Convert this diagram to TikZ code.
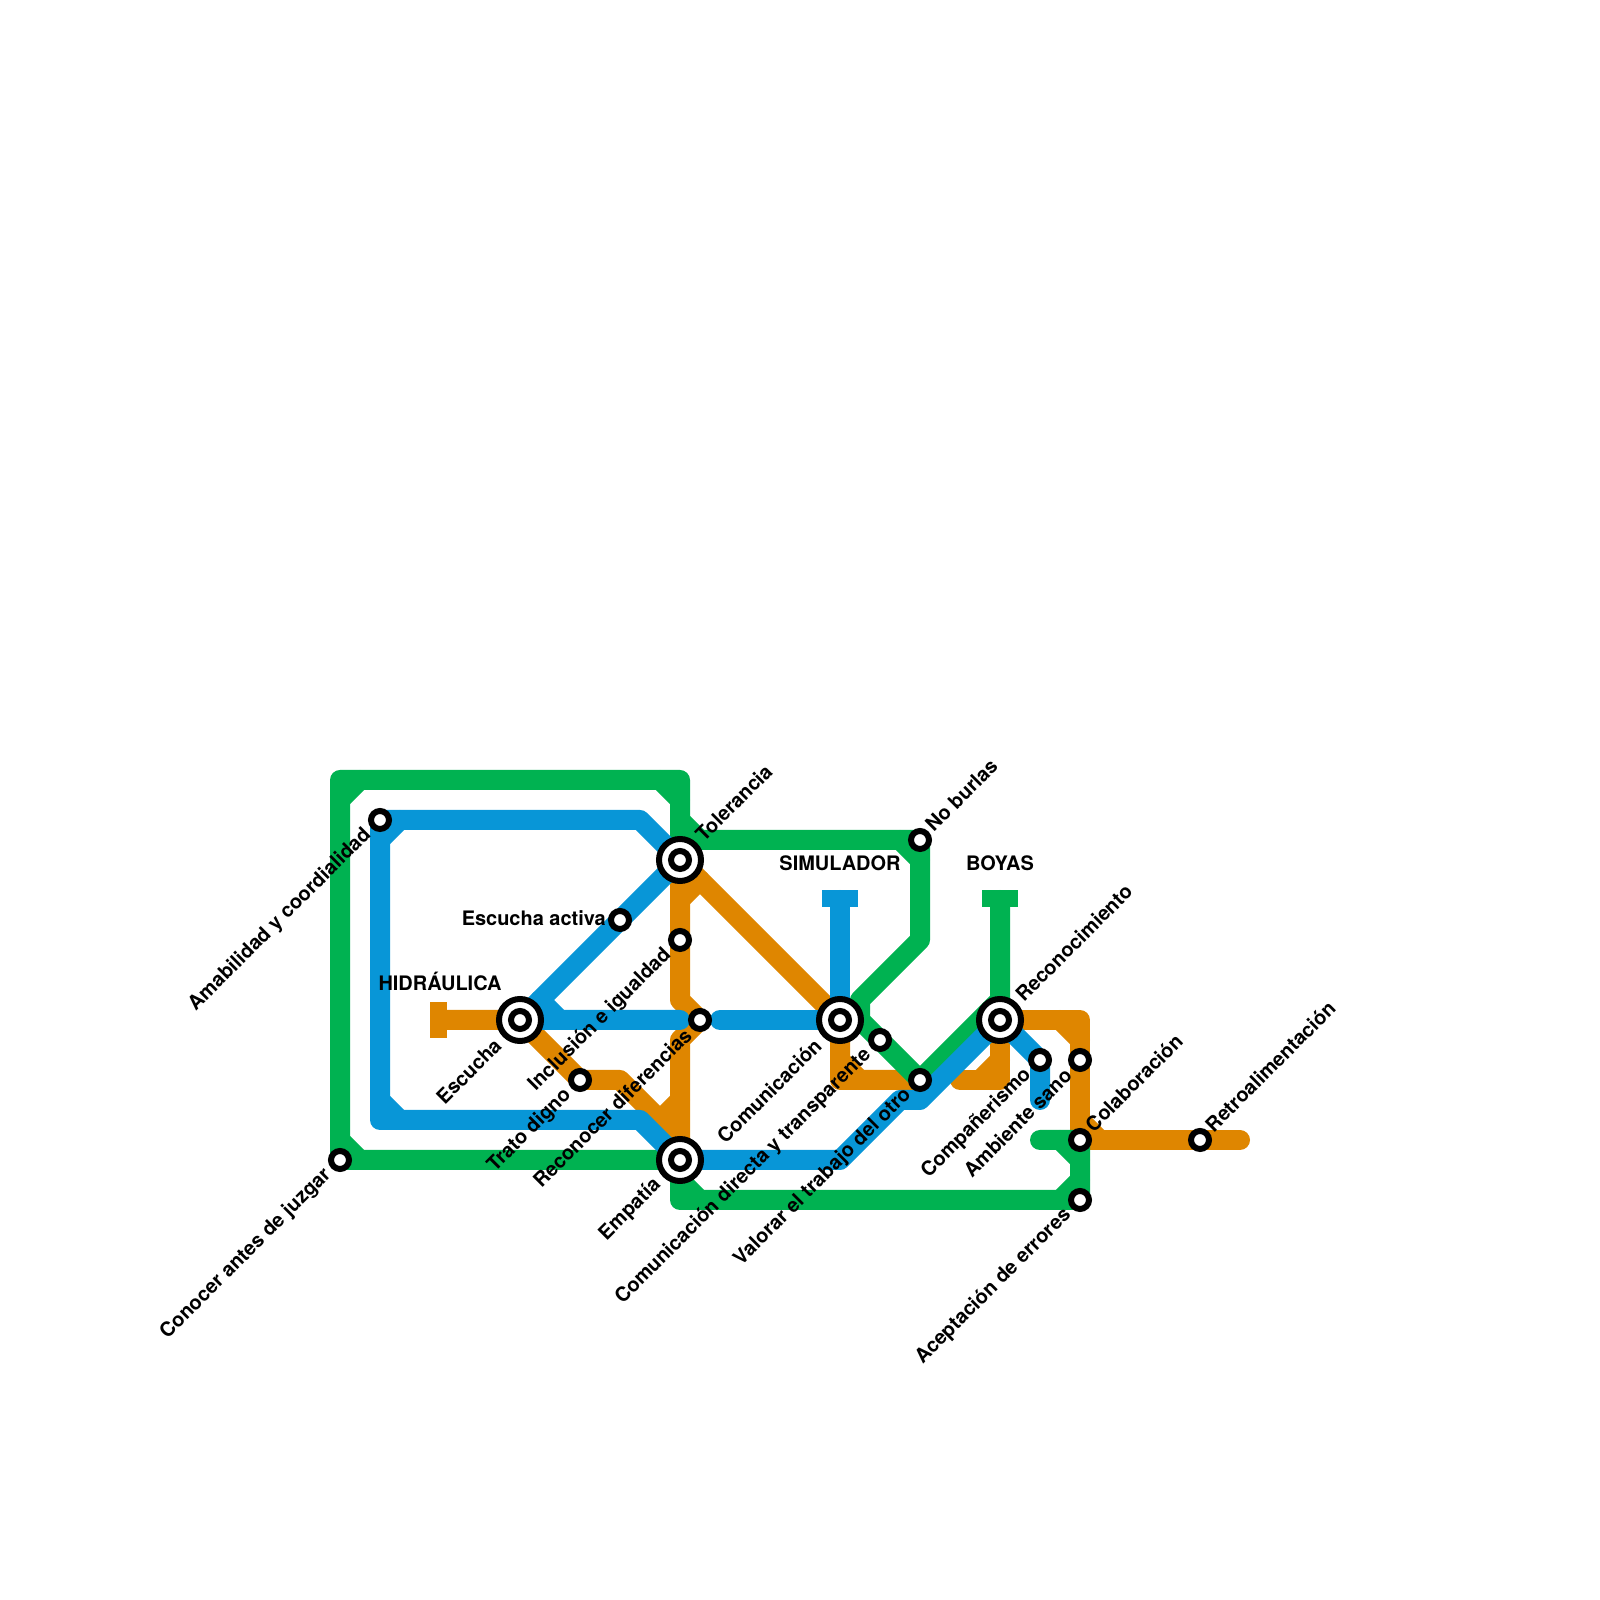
\documentclass[tikz,border=0pt]{standalone}
\usepackage{fontspec}
\setmainfont{TeX Gyre Heros}
\usepackage{tikz}
\definecolor{metrogreen}{HTML}{00B251}
\definecolor{metroblue}{HTML}{0896D7}
\definecolor{metroorange}{HTML}{DF8600}
\tikzset{
  route/.style={line width=0.5cm, line cap=round, line join=round},
  greenline/.style={route, metrogreen},
  blueline/.style={route, metroblue},
  orangeline/.style={route, metroorange},
  station/.style={circle, draw=black, fill=white, line width=0.15cm, minimum size=0.45cm, inner sep=0pt},
  hub/.style={circle, draw=black, fill=white, line width=0.15cm, minimum size=1.05cm, inner sep=0pt},
  label/.style={font=\fontsize{14.2}{17}\selectfont\bfseries, inner sep=0pt},
  textup/.style={label, anchor=west, rotate=45, xshift=#1, yshift=0.06cm},
  textup/.default=0.36cm,
  textdown/.style={label, anchor=east, rotate=45, xshift=-#1},
  textdown/.default=0.42cm,
  textleft/.style={label, anchor=east, xshift=-0.35cm, yshift=0.045cm},
  linename/.style={label, anchor=base, yshift=0.73cm}
}
\begin{document}
\begin{tikzpicture}
	\useasboundingbox (0,0) rectangle (40,40);
	% estaciones
	\coordinate (conocer) at (8.5,11);
	\coordinate (amabilidad) at (9.5,19.5);
	\coordinate (tolerancia) at (17,18.5);
	\coordinate (escucha) at (13,14.5);
	\coordinate (activa) at (15.5,17);
	\coordinate (inclusion) at (17,16.5);
	\coordinate (diferencias) at (17.5,14.5);
	\coordinate (trato) at (14.5,13);
	\coordinate (empatia) at (17,11);
	\coordinate (comunicacion) at (21,14.5);
	\coordinate (transparente) at (22,14);
	\coordinate (burlas) at (23,19);
	\coordinate (valorar) at (23,13);
	\coordinate (reconocimiento) at (25,14.5);
	\coordinate (companerismo) at (26,13.5);
	\coordinate (ambiente) at (27,13.5);
	\coordinate (colaboracion) at (27,11.5);
	\coordinate (retro) at (30,11.5);
	\coordinate (aceptacion) at (27,10);
	% extremos de las lineas
	\coordinate (hidraulica) at (11,14.5);
	\coordinate (simulador) at (21,17.5);
	\coordinate (boyas) at (25,17.5);
	% linea naranja
	\fill[metroorange] (10.75,14.05) rectangle (11.18,14.95);
	\draw[orangeline] (hidraulica) -- (escucha) -- (trato) -- (15.5,13) -- (17,11.5) -- (empatia);
	\draw[orangeline] (tolerancia) -- (17,15) -- (diferencias) -- (17,14) -- (empatia);
	\draw[orangeline] (tolerancia) -- (comunicacion) -- (21,13) -- (valorar);
	\draw[orangeline] (24,13) -- (25,13) -- (reconocimiento) -- (27,14.5) -- (colaboracion) -- (31,11.5);
	\draw[orangeline] (17.5,18)--(17,17.5) (17,12.5)--(16.5,12) (21,13.5)--(21.5,13)
		(25,13.5)--(24.5,13) (27,14)--(26.5,14.5) (27,12)--(27.5,11.5);
	% linea verde
	\fill[metrogreen] (24.55,17.318) rectangle (25.45,17.75);
	\draw[greenline] (boyas) -- (25,15) -- (valorar) -- (21.5,14.5) -- (21.5,15) -- (23,16.5) -- (burlas) -- (17,19)
		-- (17,20.5) -- (8.5,20.5) -- (conocer) -- (empatia) -- (17,10) -- (aceptacion) -- (colaboracion) -- (26,11.5);
	\draw[greenline] (17,20)--(16.5,20.5) (8.5,20)--(9,20.5) (8.5,11.5)--(9,11) (17,19.5)--(17.5,19)
		(23,18.5)--(22.5,19) (17,10.5)--(17.5,10) (27,10.5)--(26.5,10) (27,11)--(26.5,11.5);
	% linea azul
	\fill[metroblue] (20.55,17.318) rectangle (21.45,17.75);
	\draw[blueline] (simulador) -- (comunicacion) -- (18,14.5);
	\draw[blueline] (17,14.5) -- (escucha) -- (tolerancia) -- (16,19.5) -- (amabilidad) -- (9.5,12) -- (16,12) -- (empatia)
		-- (21,11) -- (22.5,12.5) -- (23,12.5) -- (reconocimiento) -- (companerismo) -- (26,12.5);
	\draw[blueline] (9.5,19)--(10,19.5) (9.5,12.5)--(10,12) (13.5,15)--(14,14.5);
	% paradas
	\foreach \p in {conocer,amabilidad,activa,inclusion,diferencias,trato,transparente,burlas,valorar,
		companerismo,ambiente,colaboracion,retro,aceptacion}
		\node[station] (\p stop) at (\p) {};
	\foreach \p in {tolerancia,escucha,empatia,comunicacion,reconocimiento} {
		\node[hub] (\p ring) at (\p) {};
		\node[station] (\p stop) at (\p) {};
	}
	% nombres
	\node[linename] (hidraulica name) at (hidraulica) {HIDRÁULICA};
	\node[linename] (simulador name) at (simulador) {SIMULADOR};
	\node[linename] (boyas name) at (boyas) {BOYAS};
	\node[textleft] (activa text) at (activa) {Escucha activa};
	\node[textup=0.72cm] (tolerancia text) at (tolerancia) {Tolerancia};
	\node[textup=0.72cm] (reconocimiento text) at (reconocimiento) {Reconocimiento};
	\node[textup] (burlas text) at (burlas) {No burlas};
	\node[textup] (colaboracion text) at (colaboracion) {Colaboración};
	\node[textup] (retro text) at (retro) {Retroalimentación};
	\node[textdown=0.78cm] (escucha text) at (escucha) {Escucha};
	\node[textdown=0.78cm] (empatia text) at (empatia) {Empatía};
	\node[textdown=0.78cm] (comunicacion text) at (comunicacion) {Comunicación};
	\node[textdown] (conocer text) at (conocer) {Conocer antes de juzgar};
	\node[textdown] (amabilidad text) at (amabilidad) {Amabilidad y coordialidad};
	\node[textdown] (inclusion text) at (inclusion) {Inclusión e igualdad};
	\node[textdown] (diferencias text) at (diferencias) {Reconocer diferencias};
	\node[textdown] (trato text) at (trato) {Trato digno};
	\node[textdown] (transparente text) at (transparente) {Comunicación directa y transparente};
	\node[textdown] (valorar text) at (valorar) {Valorar el trabajo del otro};
	\node[textdown] (companerismo text) at (companerismo) {Compañerismo};
	\node[textdown] (ambiente text) at (ambiente) {Ambiente sano};
	\node[textdown] (aceptacion text) at (aceptacion) {Aceptación de errores};
\end{tikzpicture}
\end{document}
